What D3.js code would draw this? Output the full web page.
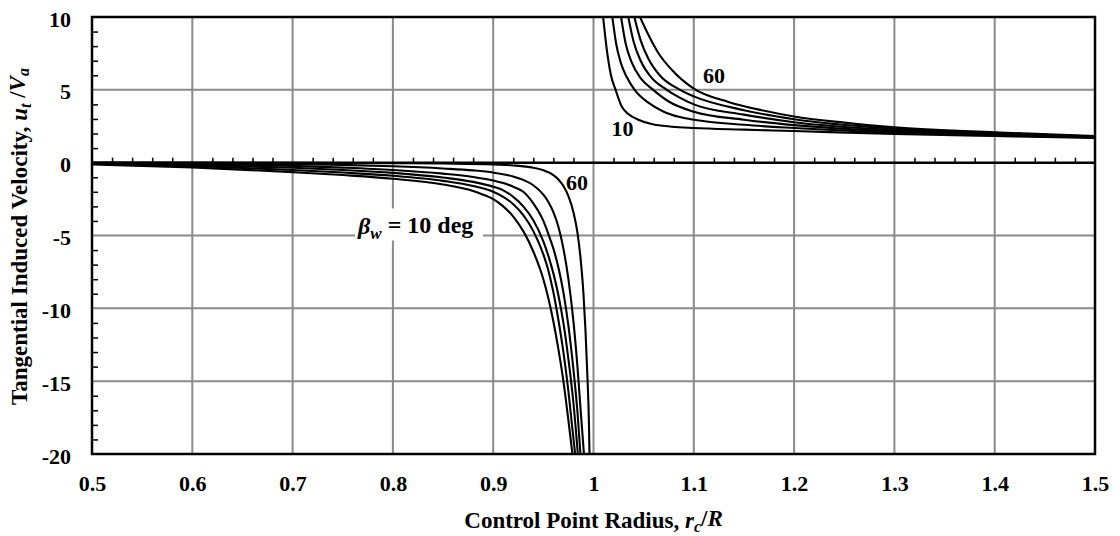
<!DOCTYPE html>
<html>
<head>
<meta charset="utf-8">
<script src="https://cdn.jsdelivr.net/npm/d3@7"></script>
<style>
	body { margin: 0; background: #fff; }
	svg text { font-family: "Liberation Serif", "Times New Roman", serif; font-weight: bold; fill: #000; }
</style>
</head>
<body>
<div id="chart"></div>
<script>
// wake angles, one curve each side of the vortex radius
const betaValues = [10, 20, 30, 40, 50, 60];

// [rc/R, ut/Va], inside the vortex (rc < R)
const inside10 = [[0.5, -0.12], [0.6, -0.32], [0.7, -0.65], [0.75, -0.85], [0.8, -1.1], [0.85, -1.5], [0.88, -1.95], [0.89, -2.2], [0.9, -2.5], [0.91, -3.0], [0.92, -3.7], [0.93, -4.7], [0.94, -6.1], [0.95, -8.0], [0.955, -9.3], [0.96, -10.9], [0.965, -12.8], [0.97, -15.0], [0.975, -17.7], [0.979, -20]];
const inside20 = [[0.5, -0.07], [0.6, -0.22], [0.7, -0.5], [0.75, -0.68], [0.8, -0.9], [0.85, -1.25], [0.88, -1.6], [0.9, -2.0], [0.91, -2.35], [0.92, -2.85], [0.93, -3.6], [0.94, -4.7], [0.95, -6.3], [0.955, -7.4], [0.96, -8.9], [0.965, -10.8], [0.97, -13.0], [0.975, -15.7], [0.979, -18.3], [0.9817, -20]];
const inside30 = [[0.5, -0.04], [0.6, -0.14], [0.7, -0.35], [0.75, -0.5], [0.8, -0.7], [0.85, -1.02], [0.88, -1.32], [0.9, -1.65], [0.91, -1.9], [0.92, -2.35], [0.93, -3.0], [0.94, -3.95], [0.95, -5.4], [0.955, -6.4], [0.96, -7.6], [0.965, -9.1], [0.97, -11.0], [0.975, -13.5], [0.98, -16.5], [0.9844, -20]];
const inside40 = [[0.5, -0.02], [0.6, -0.08], [0.7, -0.22], [0.75, -0.34], [0.8, -0.5], [0.85, -0.75], [0.88, -0.98], [0.9, -1.22], [0.91, -1.4], [0.92, -1.65], [0.93, -2.0], [0.94, -2.8], [0.95, -4.0], [0.955, -4.9], [0.96, -5.9], [0.965, -7.2], [0.97, -8.9], [0.975, -11.2], [0.98, -14.2], [0.984, -17.1], [0.987, -20]];
const inside50 = [[0.5, -0.01], [0.6, -0.04], [0.7, -0.1], [0.75, -0.16], [0.8, -0.25], [0.85, -0.4], [0.88, -0.53], [0.9, -0.68], [0.92, -0.95], [0.93, -1.18], [0.94, -1.55], [0.95, -2.2], [0.955, -2.7], [0.96, -3.4], [0.965, -4.4], [0.97, -5.9], [0.975, -8.0], [0.98, -10.9], [0.984, -14.0], [0.9875, -17.3], [0.9905, -20]];
const inside60 = [[0.5, 0], [0.6, 0], [0.7, -0.01], [0.8, -0.03], [0.85, -0.06], [0.9, -0.12], [0.92, -0.19], [0.94, -0.35], [0.95, -0.52], [0.96, -0.85], [0.965, -1.15], [0.97, -1.6], [0.975, -2.3], [0.98, -3.4], [0.984, -4.8], [0.987, -6.5], [0.99, -9.0], [0.992, -11.5], [0.994, -14.8], [0.9955, -18.0], [0.996, -20]];

// [rc/R, ut/Va] outside the vortex (rc > R)
const outside10 = [[1.0096, 10], [1.013, 7.9], [1.0174, 6.0], [1.022, 5.0], [1.028, 3.87], [1.0347, 3.34], [1.0447, 2.95], [1.058, 2.65], [1.078, 2.47], [1.1, 2.38], [1.15, 2.27], [1.2, 2.17], [1.3, 1.97], [1.4, 1.83], [1.5, 1.70]];
const outside20 = [[1.0188, 10], [1.0225, 8.2], [1.027, 6.9], [1.033, 5.9], [1.041, 5.0], [1.055, 4.1], [1.07, 3.5], [1.085, 3.15], [1.1, 2.95], [1.15, 2.6], [1.2, 2.38], [1.3, 2.06], [1.4, 1.88], [1.5, 1.73]];
const outside30 = [[1.0275, 10], [1.032, 8.2], [1.038, 6.9], [1.047, 5.8], [1.0595, 5.0], [1.075, 4.2], [1.1, 3.5], [1.15, 2.95], [1.2, 2.58], [1.3, 2.15], [1.4, 1.93], [1.5, 1.75]];
const outside40 = [[1.0347, 10], [1.04, 8.3], [1.047, 7.0], [1.057, 5.9], [1.073, 5.0], [1.085, 4.5], [1.1, 4.0], [1.15, 3.3], [1.2, 2.78], [1.3, 2.24], [1.4, 1.98], [1.5, 1.77]];
const outside50 = [[1.0407, 10], [1.047, 8.4], [1.055, 7.1], [1.066, 6.0], [1.0863, 5.0], [1.1, 4.55], [1.15, 3.6], [1.2, 2.98], [1.3, 2.33], [1.4, 2.03], [1.5, 1.80]];
const outside60 = [[1.0464, 10], [1.0547, 8.78], [1.0646, 7.53], [1.078, 6.38], [1.1, 5.08], [1.1345, 4.17], [1.1677, 3.6], [1.2, 3.17], [1.25, 2.75], [1.3, 2.42], [1.4, 2.08], [1.5, 1.83]];

// axis ticks
const xTickValues = [0.5, 0.6, 0.7, 0.8, 0.9, 1.0, 1.1, 1.2, 1.3, 1.4, 1.5];
const xTickLabels = ["0.5", "0.6", "0.7", "0.8", "0.9", "1", "1.1", "1.2", "1.3", "1.4", "1.5"];
const yTickValues = [10, 5, 0, -5, -10, -15, -20];
const yTickLabels = ["10", "5", "0", "-5", "-10", "-15", "-20"];

const insideCurves = [inside10, inside20, inside30, inside40, inside50, inside60];
const outsideCurves = [outside10, outside20, outside30, outside40, outside50, outside60];

function drawChart() {
	let width = 1120,
		height = 536,
		margin = {top: 17, right: 25, bottom: 82, left: 92};

	let xScale = d3.scaleLinear()
		.domain([0.5, 1.5])
		.range([margin.left, width - margin.right]);

	let yScale = d3.scaleLinear()
		.domain([-20, 10])
		.range([height - margin.bottom, margin.top]);

	let svg = d3.select("#chart")
		.append("svg")
		.attr("width", width)
		.attr("height", height);

	svg.append("rect")
		.attr("width", width)
		.attr("height", height)
		.attr("fill", "#fff");

	svg.append("clipPath")
		.attr("id", "plotClip")
		.append("rect")
		.attr("x", xScale(0.5))
		.attr("y", yScale(10))
		.attr("width", xScale(1.5) - xScale(0.5))
		.attr("height", yScale(-20) - yScale(10));

	// gridlines
	let grid = svg.append("g").attr("stroke", "#8a8a8a").attr("stroke-width", 2);
	grid.selectAll("line.vx")
		.data(xTickValues.slice(1, -1))
		.enter().append("line")
		.attr("x1", d => xScale(d)).attr("x2", d => xScale(d))
		.attr("y1", yScale(10)).attr("y2", yScale(-20));
	grid.selectAll("line.hy")
		.data(yTickValues.filter(d => d !== 0 && d !== 10 && d !== -20))
		.enter().append("line")
		.attr("x1", xScale(0.5)).attr("x2", xScale(1.5))
		.attr("y1", d => yScale(d)).attr("y2", d => yScale(d));

	// beta label box hides the gridline behind it
	let betaX = xScale(0.7652),
		betaY = yScale(-4.93);
	svg.append("rect")
		.attr("x", betaX - 3)
		.attr("y", betaY - 26)
		.attr("width", 128)
		.attr("height", 32)
		.attr("fill", "#fff");

	// curves
	let line = d3.line()
		.x(d => xScale(d[0]))
		.y(d => yScale(d[1]))
		.curve(d3.curveMonotoneX);

	svg.append("g")
		.attr("clip-path", "url(#plotClip)")
		.selectAll("path")
		.data(insideCurves.concat(outsideCurves))
		.enter().append("path")
		.attr("d", line)
		.attr("fill", "none")
		.attr("stroke", "#000")
		.attr("stroke-width", 2.1);

	// zero line with minor ticks pointing up
	svg.append("line")
		.attr("x1", xScale(0.5)).attr("x2", xScale(1.5))
		.attr("y1", yScale(0)).attr("y2", yScale(0))
		.attr("stroke", "#000").attr("stroke-width", 2.5);

	let xMinor = d3.range(0.52, 1.5, 0.02).filter(d => Math.abs(d * 10 - Math.round(d * 10)) > 1e-6);
	svg.append("g")
		.attr("transform", "translate(0," + yScale(0) + ")")
		.call(d3.axisTop(xScale).tickValues(xMinor).tickSize(5).tickFormat(""))
		.call(g => g.select(".domain").remove())
		.selectAll("line").attr("stroke-width", 1.5);

	// left minor ticks pointing in
	let yMinor = d3.range(-19, 10).filter(d => d % 5 !== 0);
	svg.append("g")
		.attr("transform", "translate(" + xScale(0.5) + ",0)")
		.call(d3.axisLeft(yScale).tickValues(yMinor).tickSize(-6).tickFormat(""))
		.call(g => g.select(".domain").remove())
		.selectAll("line").attr("stroke-width", 1.5);

	// plot frame
	svg.append("rect")
		.attr("x", xScale(0.5))
		.attr("y", yScale(10))
		.attr("width", xScale(1.5) - xScale(0.5))
		.attr("height", yScale(-20) - yScale(10))
		.attr("fill", "none")
		.attr("stroke", "#000")
		.attr("stroke-width", 2.5);

	// tick labels
	svg.append("g")
		.attr("transform", "translate(0," + yScale(-20) + ")")
		.call(d3.axisBottom(xScale).tickValues(xTickValues).tickSize(0).tickPadding(21)
			.tickFormat((d, i) => xTickLabels[i]))
		.call(g => g.select(".domain").remove())
		.selectAll("text")
		.style("font-size", "22px");

	svg.append("g")
		.attr("transform", "translate(" + xScale(0.5) + ",0)")
		.call(d3.axisLeft(yScale).tickValues(yTickValues).tickSize(0).tickPadding(21)
			.tickFormat((d, i) => yTickLabels[i]))
		.call(g => g.select(".domain").remove())
		.selectAll("text")
		.attr("dy", "0.41em")
		.style("font-size", "22px");

	// axis titles
	let xTitle = svg.append("text")
		.attr("x", (xScale(0.5) + xScale(1.5)) / 2)
		.attr("y", 528)
		.attr("text-anchor", "middle")
		.style("font-size", "23px");
	xTitle.append("tspan").text("Control Point Radius, ");
	xTitle.append("tspan").attr("font-style", "italic").text("r");
	xTitle.append("tspan").attr("font-style", "italic").attr("dy", "0.25em").style("font-size", "16px").text("c");
	xTitle.append("tspan").attr("dy", "-0.25em").text("/");
	xTitle.append("tspan").attr("font-style", "italic").text("R");

	let yTitle = svg.append("text")
		.attr("transform", "translate(27," + ((yScale(10) + yScale(-20)) / 2 + 1) + ") rotate(-90)")
		.attr("text-anchor", "middle")
		.style("font-size", "23px");
	yTitle.append("tspan").text("Tangential Induced Velocity, ");
	yTitle.append("tspan").attr("font-style", "italic").text("u");
	yTitle.append("tspan").attr("font-style", "italic").attr("dy", "0.25em").style("font-size", "16px").text("t");
	yTitle.append("tspan").attr("dy", "-0.25em").text(" /");
	yTitle.append("tspan").attr("font-style", "italic").text("V");
	yTitle.append("tspan").attr("font-style", "italic").attr("dy", "0.25em").style("font-size", "16px").text("a");

	// curve labels
	let labels = [
		{text: "60", r: 1.1201, u: 5.47},
		{text: "10", r: 1.029, u: 1.86},
		{text: "60", r: 0.9835, u: -1.88}
	];
	svg.selectAll("text.curveLabel")
		.data(labels)
		.enter().append("text")
		.attr("class", "curveLabel")
		.attr("x", d => xScale(d.r))
		.attr("y", d => yScale(d.u))
		.attr("text-anchor", "middle")
		.style("font-size", "22px")
		.text(d => d.text);

	let beta = svg.append("text")
		.attr("x", betaX)
		.attr("y", betaY)
		.style("font-size", "24px");
	beta.append("tspan").attr("font-style", "italic").text("β");
	beta.append("tspan").attr("font-style", "italic").attr("dy", "0.25em").style("font-size", "17px").text("w");
	beta.append("tspan").attr("dy", "-0.25em").text(" = " + betaValues[0] + " deg");
}

drawChart();
</script>
</body>
</html>
